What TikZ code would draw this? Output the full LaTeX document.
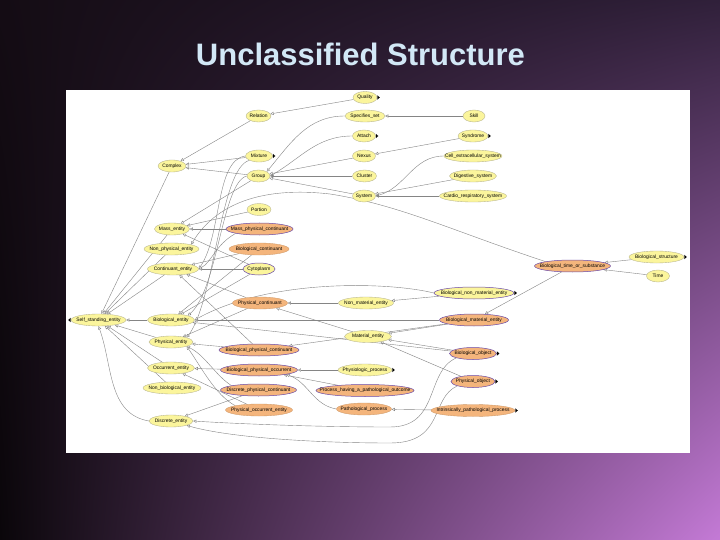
\documentclass[tikz,border=0pt]{standalone}
\usepackage{fontspec}
\setmainfont{Liberation Sans}
\usetikzlibrary{shapes.geometric,arrows.meta,shadings}
\definecolor{nyel}{HTML}{FBF59C}
\definecolor{norg}{HTML}{F4B57C}
\definecolor{nprp}{HTML}{6A4AA8}
\definecolor{edgec}{HTML}{858585}
\definecolor{ttl}{HTML}{D2E8F6}
\definecolor{bgul}{HTML}{140C14}
\definecolor{bgur}{HTML}{30203A}
\definecolor{bgll}{HTML}{0A060A}
\definecolor{bglr}{HTML}{C47AD6}
\pgfdeclarelayer{bglayer}
\pgfdeclarelayer{edgelayer}
\pgfsetlayers{bglayer,edgelayer,main}
\newcommand\lbl[1]{\makebox[0pt]{#1}}
\newcommand\mke[1]{\fill (#1.east) ++(0.2,-2.2) -- ++(2.4,2.2) -- ++(-2.4,2.2) -- cycle;}
\newcommand\mkw[1]{\fill (#1.west) ++(-0.2,-2.2) -- ++(-2.4,2.2) -- ++(2.4,2.2) -- cycle;}
\begin{document}
\begin{tikzpicture}[x=1pt,y=-1pt,
  nd/.style={ellipse, inner sep=0pt, minimum height=12pt, font=\fontsize{4.9}{5.5}\selectfont, line width=0.35pt},
  yel/.style={nd, fill=nyel, draw=nyel!60!black!70},
  org/.style={nd, fill=norg, draw=norg!85!black},
  prp/.style={draw=nprp, line width=0.5pt},
  ed/.style={draw=edgec, line width=0.4pt, -{Triangle[open,length=3.2pt,width=3.2pt,fill=white]}},
  thk/.style={line width=0.9pt},
]
\useasboundingbox (0,0) rectangle (720,540);
\begin{pgfonlayer}{bglayer}
\shade[upper left=bgul, upper right=bgur, lower left=bgll, lower right=bglr] (0,0) rectangle (720,540);
\node[fill=white, inner sep=0pt, minimum width=624pt, minimum height=363pt, anchor=north west] (panel) at (66,90) {};
\end{pgfonlayer}
\node[anchor=base, text=ttl, font=\fontsize{31}{31}\selectfont\bfseries] (title) at (360.5,66) {Unclassified Structure};

% nodes
\node[yel, minimum width=24pt] (q) at (365,97.5) {\lbl{Quality}};
\node[yel, minimum width=25pt] (rel) at (258.5,116) {\lbl{Relation}};
\node[yel, minimum width=40pt] (spec) at (365,116) {\lbl{Specifies\_set}};
\node[yel, minimum width=22pt] (skill) at (474,116) {\lbl{Skill}};
\node[yel, minimum width=23pt] (att) at (364,136) {\lbl{Attach}};
\node[yel, minimum width=30pt] (syn) at (473,136) {\lbl{Syndrome}};
\node[yel, minimum width=28pt] (cpx) at (172,166) {\lbl{Complex}};
\node[yel, minimum width=27pt] (mix) at (259,156) {\lbl{Mixture}};
\node[yel, minimum width=23pt] (grp) at (258.5,176) {\lbl{Group}};
\node[yel, minimum width=23pt] (nex) at (364,156) {\lbl{Nexus}};
\node[yel, minimum width=58pt] (ces) at (473,156) {\lbl{Cell\_extracellular\_system}};
\node[yel, minimum width=24pt] (clu) at (364.5,176) {\lbl{Cluster}};
\node[yel, minimum width=47pt] (dig) at (473,176) {\lbl{Digestive\_system}};
\node[yel, minimum width=23pt] (sys) at (364,196) {\lbl{System}};
\node[yel, minimum width=67pt] (car) at (473,196) {\lbl{Cardio\_respiratory\_system}};
\node[yel, minimum width=24pt] (por) at (259,209.5) {\lbl{Portion}};
\node[yel, minimum width=35pt] (mas) at (172,229) {\lbl{Mass\_entity}};
\node[org, prp, minimum width=67pt] (mpc) at (259.5,229) {\lbl{Mass\_physical\_continuant}};
\node[yel, minimum width=55pt] (npe) at (171.5,249) {\lbl{Non\_physical\_entity}};
\node[org, minimum width=60pt] (bco) at (259,249) {\lbl{Biological\_continuant}};
\node[yel, minimum width=51pt] (con) at (173,269) {\lbl{Continuant\_entity}};
\node[yel, prp, minimum width=32pt] (cyt) at (259,269) {\lbl{Cytoplasm}};
\node[yel, minimum width=55pt] (sse) at (98.5,320) {\lbl{Self\_standing\_entity}};
\node[yel, minimum width=47pt] (bio) at (171,320) {\lbl{Biological\_entity}};
\node[org, minimum width=55pt] (phc) at (260,303) {\lbl{Physical\_continuant}};
\node[yel, minimum width=44pt] (phe) at (171,342) {\lbl{Physical\_entity}};
\node[org, prp, minimum width=80pt] (bpc) at (259,350) {\lbl{Biological\_physical\_continuant}};
\node[yel, minimum width=47pt] (occ) at (171,368) {\lbl{Occurrent\_entity}};
\node[org, prp, minimum width=77pt] (bpo) at (259,370) {\lbl{Biological\_physical\_occurrent}};
\node[yel, minimum width=58pt] (nbe) at (172,388) {\lbl{Non\_biological\_entity}};
\node[org, prp, minimum width=76pt] (dpc) at (258.5,390) {\lbl{Discrete\_physical\_continuant}};
\node[org, minimum width=67pt] (poe) at (259,410) {\lbl{Physical\_occurrent\_entity}};
\node[yel, minimum width=44pt] (dis) at (171,421) {\lbl{Discrete\_entity}};
\node[yel, minimum width=55pt] (nme) at (366,303) {\lbl{Non\_material\_entity}};
\node[yel, minimum width=47pt] (mat) at (368,336.5) {\lbl{Material\_entity}};
\node[yel, prp, minimum width=80pt] (bnm) at (474,293) {\lbl{Biological\_non\_material\_entity}};
\node[org, prp, minimum width=69pt] (bme) at (474,320) {\lbl{Biological\_material\_entity}};
\node[org, prp, minimum width=47pt] (bob) at (473,353.5) {\lbl{Biological\_object}};
\node[yel, minimum width=54pt] (php) at (365,370) {\lbl{Physiologic\_process}};
\node[org, prp, minimum width=44pt] (pob) at (473,381.5) {\lbl{Physical\_object}};
\node[org, prp, minimum width=98pt] (pho) at (365,390.5) {\lbl{Process\_having\_a\_pathological\_outcome}};
\node[org, minimum width=55pt] (pat) at (364,409) {\lbl{Pathological\_process}};
\node[org, minimum width=84pt] (ipp) at (473,410.5) {\lbl{Intrinsically\_pathological\_process}};
\node[org, prp, minimum width=76pt] (bts) at (572.5,266) {\lbl{Biological\_time\_or\_substance}};
\node[yel, minimum width=55pt] (bst) at (656.5,257) {\lbl{Biological\_structure}};
\node[yel, minimum width=23pt] (tim) at (658,276) {\lbl{Time}};

% markers
\mke{q}\mke{att}\mke{syn}\mke{mix}\mke{bst}\mke{bnm}\mke{bob}\mke{php}\mke{pob}\mke{ipp}\mkw{sse}

% edges
\begin{pgfonlayer}{edgelayer}
\draw[ed] (q) -- (rel);
\draw[ed] (rel) -- (cpx);
\draw[ed] (mix) -- (cpx);
\draw[ed] (grp) -- (cpx);
\draw[ed] (spec.west) to[out=180,in=50] (grp.north east);
\draw[ed] (att.west) to[out=180,in=30] (grp.east);
\draw[ed] (nex) -- (grp);
\draw[ed, thk] (clu) -- (grp);
\draw[ed] (sys) -- (grp);
\draw[ed] (skill) -- (spec);
\draw[ed] (syn) -- (nex);
\draw[ed] (ces.west) to[out=180,in=15] (sys.east);
\draw[ed] (dig) -- (sys);
\draw[ed, thk] (car) -- (sys);
\draw[ed] (bts.north west) .. controls (450,230) and (400,205) .. (330,194) .. controls (260,186) and (215,205) .. (npe.north east);
\draw[ed] (por) -- (mas);
\draw[ed] (mpc) -- (mas);
\draw[ed] (grp) -- (mas);
\draw[ed] (cyt) -- (mas);
\draw[ed] (cyt) -- (con);
\draw[ed] (cyt) -- (bio);
\draw[ed] (mix.west) .. controls (215,160) and (222,235) .. (con.east);
\draw[ed] (mix.south west) .. controls (220,168) and (215,300) .. (phe.north east);
\draw[ed] (grp.west) .. controls (222,182) and (218,290) .. (bio.north east);
\draw[ed] (mpc.south west) .. controls (215,245) and (212,262) .. (con.east);
\draw[ed] (bco) -- (con);
\draw[ed] (bco) -- (bio);
\draw[ed] (phc) -- (con);
\draw[ed] (phc) -- (phe);
\draw[ed] (nme) -- (phc);
\draw[ed] (mat) -- (phc);
\draw[ed] (bnm) -- (nme);
\draw[ed] (bnm.west) .. controls (390,282) and (270,278) .. (bio.east);
\draw[ed] (bme) -- (mat);
\draw[ed] (bme) -- (bio);
\draw[ed] (bme) -- (bpc);
\draw[ed] (bts) -- (bme);
\draw[ed] (bst) -- (bts);
\draw[ed] (tim) -- (bts);
\draw[ed] (bob) -- (mat);
\draw[ed] (bob) -- (bio);
\draw[ed] (bob.south west) .. controls (425,372) and (440,427) .. (390,427) .. controls (320,427) and (240,424) .. (dis.east);
\draw[ed] (pob) -- (mat);
\draw[ed] (pob.south west) .. controls (430,398) and (445,443) .. (390,443) .. controls (320,443) and (230,438) .. (dis.south east);
\draw[ed] (php) -- (bpo);
\draw[ed] (pho) -- (bpo);
\draw[ed] (pat.west) to[out=170,in=-20] (bpo.south east);
\draw[ed] (ipp) -- (pat);
\draw[ed] (bpc) -- (phe);
\draw[ed] (bpc) -- (con);
\draw[ed] (bpo) -- (occ);
\draw[ed] (dpc.north west) .. controls (215,375) and (205,355) .. (phe.south east);
\draw[ed] (poe.north west) .. controls (215,395) and (200,365) .. (phe.south east);
\draw[ed] (dpc) -- (dis);
\draw[ed] (poe) -- (occ);
\draw[ed] (bio) -- (sse);
\draw[ed] (phe) -- (sse);
\draw[ed] (occ) -- (sse);
\draw[ed] (nbe) -- (sse);
\draw[ed] (dis.west) to[out=170,in=-70] (sse.south);
\draw[ed] (con) -- (sse);
\draw[ed] (npe) -- (sse);
\draw[ed] (mas) -- (sse);
\draw[ed] (cpx) -- (sse);
\end{pgfonlayer}
\end{tikzpicture}
\end{document}
